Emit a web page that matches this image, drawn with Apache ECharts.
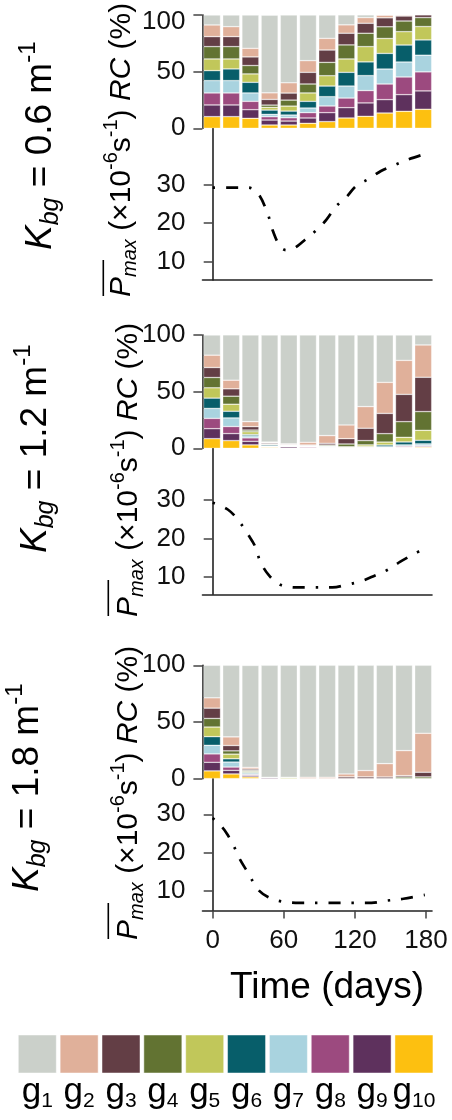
<!DOCTYPE html>
<html>
<head>
<meta charset="utf-8">
<script src="https://cdn.jsdelivr.net/npm/echarts@6/dist/echarts.min.js"></script>
<style>
  html, body { margin: 0; padding: 0; background: #fff; }
  #chart { width: 452px; height: 1120px; }
</style>
</head>
<body>
<div id="chart"></div>
<script>
// ---- data -------------------------------------------------------------
const groupNames = ['1', '2', '3', '4', '5', '6', '7', '8', '9', '10'];
const groupColors = ['#cbd0ca', '#e0b09a', '#633e45', '#627332', '#c1c75a',
                     '#075e6a', '#a9d3df', '#9c4a7f', '#5e315d', '#fdc010'];
const kbgValues = ['0.6', '1.2', '1.8'];

// sampling days of the community composition bars
const barDays = ['0', '16', '32', '48', '64', '80', '97', '113', '129', '145', '162', '178'];

// relative contribution RC (%) of each group, K_bg = 0.6
const k06_g1  = [8.8, 10.3, 29.4, 68.6, 59.8, 40.3, 20.6, 8.8, 2.4, 0.1, 0, 0];
const k06_g2  = [10.3, 8.8, 7.6, 5.8, 9.1, 10.3, 10.3, 7.4, 5.0, 2.4, 0.9, 0];
const k06_g3  = [8.8, 8.8, 7.6, 5.0, 6.2, 10.3, 10.9, 10.3, 8.8, 7.9, 4.4, 2.4];
const k06_g4  = [10.9, 10.9, 7.4, 2.0, 5.3, 7.9, 11.8, 12.4, 11.8, 10.3, 9.4, 7.9];
const k06_g5  = [10.3, 8.8, 7.4, 2.4, 4.4, 7.4, 9.1, 11.8, 13.5, 13.2, 11.8, 11.8];
const k06_g6  = [8.8, 10.3, 9.4, 3.8, 3.5, 5.9, 9.4, 12.1, 12.1, 13.8, 15.0, 13.5];
const k06_g7  = [10.9, 10.9, 7.4, 2.1, 2.4, 4.1, 8.2, 10.6, 13.2, 13.2, 13.2, 14.7];
const k06_g8  = [10.6, 10.6, 7.4, 2.9, 2.9, 4.7, 5.9, 8.5, 10.9, 13.8, 15.6, 16.8];
const k06_g9  = [10.3, 10.3, 7.6, 4.4, 3.5, 4.7, 7.9, 9.1, 11.8, 11.8, 14.7, 16.2];
const k06_g10 = [10.3, 10.3, 8.8, 2.9, 2.9, 4.4, 5.9, 9.1, 10.6, 13.5, 15.0, 16.8];

// K_bg = 1.2
const k12_g1  = [17.8, 40.0, 76.5, 94.5, 96.0, 94.7, 88.8, 79.4, 63.2, 41.8, 22.4, 8.8];
const k12_g2  = [10.9, 7.6, 4.4, 0.6, 0.6, 2.4, 6.8, 12.1, 19.1, 27.4, 30.0, 28.5];
const k12_g3  = [8.8, 6.5, 3.0, 0.9, 0.6, 0.6, 1.5, 4.7, 10.9, 17.9, 24.1, 30.3];
const k12_g4  = [9.1, 7.1, 1.5, 0.6, 0.2, 0.3, 0.9, 2.4, 3.8, 7.4, 13.8, 16.5];
const k12_g5  = [9.1, 6.2, 2.4, 0.3, 0.2, 0.2, 0.3, 0.6, 1.5, 2.6, 4.1, 8.8];
const k12_g6  = [9.1, 5.9, 1.2, 1.0, 0.3, 0.2, 0.6, 0.3, 0.6, 1.5, 2.6, 3.2];
const k12_g7  = [8.8, 7.6, 1.8, 0.3, 0.2, 0.2, 0.6, 0.3, 0.2, 0.6, 1.2, 1.5];
const k12_g8  = [9.1, 6.2, 3.0, 0.5, 0.5, 0.8, 0.2, 0.1, 0.6, 0.3, 0.9, 0.9];
const k12_g9  = [8.8, 6.2, 3.2, 0.5, 1.2, 0.4, 0.2, 0.1, 0.1, 0.5, 0.6, 0.6];
const k12_g10 = [8.5, 6.8, 3.0, 0.8, 0.2, 0.2, 0.1, 0, 0, 0, 0.3, 0.9];

// K_bg = 1.8
const k18_g1  = [28.7, 63.2, 90.0, 98.8, 98.8, 98.8, 98.8, 95.9, 92.9, 86.8, 75.3, 60.0];
const k18_g2  = [9.1, 7.6, 1.5, 0, 0, 1.2, 1.2, 2.6, 5.6, 11.8, 22.1, 34.4];
const k18_g3  = [9.1, 4.7, 1.2, 0, 0, 0, 0, 1.5, 1.5, 1.4, 1.2, 4.1];
const k18_g4  = [7.6, 2.9, 0.9, 0, 0, 0, 0, 0, 0, 0, 1.4, 1.5];
const k18_g5  = [8.5, 4.1, 0.9, 0, 1.2, 0, 0, 0, 0, 0, 0, 0];
const k18_g6  = [7.6, 2.9, 0.9, 0, 0, 0, 0, 0, 0, 0, 0, 0];
const k18_g7  = [7.6, 4.4, 0.9, 0, 0, 0, 0, 0, 0, 0, 0, 0];
const k18_g8  = [7.4, 2.9, 0.9, 0.2, 0, 0, 0, 0, 0, 0, 0, 0];
const k18_g9  = [7.6, 3.2, 1.2, 1.0, 0, 0, 0, 0, 0, 0, 0, 0];
const k18_g10 = [6.8, 4.1, 1.5, 0, 0, 0, 0, 0, 0, 0, 0, 0];

// mean maximum photosynthetic rate (x10^-6 s^-1)
const pmax06Days = [0, 10, 20, 30, 38, 46, 51, 57, 62, 67, 78, 88, 96, 104, 113, 121, 132, 142, 153, 165, 178];
const pmax06     = [29.2, 29.2, 29.2, 29.2, 27.8, 22.8, 17.8, 13.9, 13.0, 13.2, 15.7, 18.3, 20.9, 24.3, 26.8, 29.6, 31.5, 33.5, 35.0, 36.5, 37.8];
const pmax12Days = [0, 13, 22, 30, 36, 40, 47, 57, 71, 86, 101, 113, 126, 137, 148, 158, 169, 179];
const pmax12     = [29.2, 27.4, 24.5, 20.9, 17.8, 14.1, 10.6, 8.0, 7.3, 7.3, 7.3, 8.0, 9.0, 10.4, 11.9, 13.9, 15.8, 17.4];
const pmax18Days = [0, 8, 12, 17, 23, 30, 38, 47, 58, 73, 90, 105, 120, 134, 147, 161, 175, 179];
const pmax18     = [29.0, 26.6, 24.9, 22.2, 18.2, 14.6, 10.4, 8.3, 7.2, 6.8, 6.8, 6.8, 6.8, 6.8, 7.4, 7.9, 8.7, 8.9];

const timeTicks = [0, 60, 120, 180];

// ---- layout -------------------------------------------------------------
const FONT = "'Liberation Sans', Arial, Helvetica, sans-serif";
const AX = '#222';
const plotLeft = 202.5, plotRight = 432;
const barBand = 19.2;                 // width of one bar slot
const barLeft = 202.4;
// pixel positions of day 0 and day 180 on the time axis
const day0Px = 212.7, day180Px = 426;
const pxPerDay = (day180Px - day0Px) / 180;
const xMin = (plotLeft - day0Px) / pxPerDay;
const xMax = (plotRight - day0Px) / pxPerDay;

const panels = [
  { k: kbgValues[0], rc: [k06_g1, k06_g2, k06_g3, k06_g4, k06_g5, k06_g6, k06_g7, k06_g8, k06_g9, k06_g10],
    pd: pmax06Days, pv: pmax06,
    top: 15, zero: 128.3, y30: 184.5, y10: 261.7, bottom: 280,
    titleX: 121.7, titleBottom: 297, barX: 103.3, kX: 41, kBottom: 250, lift100: true },
  { k: kbgValues[1], rc: [k12_g1, k12_g2, k12_g3, k12_g4, k12_g5, k12_g6, k12_g7, k12_g8, k12_g9, k12_g10],
    pd: pmax12Days, pv: pmax12,
    top: 335, zero: 448.3, y30: 499.7, y10: 577, bottom: 594.3,
    titleX: 129, titleBottom: 617, barX: 108.3, kX: 36, kBottom: 553 },
  { k: kbgValues[2], rc: [k18_g1, k18_g2, k18_g3, k18_g4, k18_g5, k18_g6, k18_g7, k18_g8, k18_g9, k18_g10],
    pd: pmax18Days, pv: pmax18,
    top: 665.3, zero: 778.6, y30: 814.3, y10: 890.7, bottom: 910.5,
    titleX: 129, titleBottom: 940, barX: 108.3, kX: 28, kBottom: 892, timeAxis: true }
];

const grid = [], xAxis = [], yAxis = [], series = [], graphic = [];

const tickLabel = { fontFamily: FONT, fontSize: 26, color: '#111' };

panels.forEach((p, pi) => {
  const gBar = grid.length;
  grid.push({ left: barLeft, width: barBand * barDays.length, top: p.top, height: p.zero - p.top });
  const pxPerUnit = (p.y10 - p.y30) / 20;
  const lMax = 30 + (p.y30 - p.zero) / pxPerUnit;
  const lMin = 10 - (p.bottom - p.y10) / pxPerUnit;
  grid.push({ left: plotLeft, width: plotRight - plotLeft, top: p.zero, height: p.bottom - p.zero });

  // composition panel axes
  xAxis.push({ gridIndex: gBar, type: 'category', data: barDays, boundaryGap: true, show: false });
  yAxis.push({
    gridIndex: gBar, type: 'value', min: 0, max: 100,
    axisLine: { show: true, lineStyle: { color: AX, width: 1.6 } },
    axisTick: { show: true, length: 9, customValues: [0, 50, 100], lineStyle: { color: '#444', width: 1.5 } },
    axisLabel: Object.assign({
      margin: 17, customValues: [0, 50, 100],
      formatter: v => (p.lift100 && v === 100) ? '{lo|100}' : String(v),
      rich: { lo: { fontFamily: FONT, fontSize: 26, color: '#111', padding: [13, 0, 0, 0] } }
    }, tickLabel),
    splitLine: { show: false }
  });

  // Pmax panel axes
  xAxis.push({
    gridIndex: gBar + 1, type: 'value', min: xMin, max: xMax,
    axisLine: { show: true, onZero: false, lineStyle: { color: AX, width: 1.6 } },
    axisTick: { show: !!p.timeAxis, length: 8, customValues: timeTicks, lineStyle: { color: '#444', width: 1.5 } },
    axisLabel: Object.assign({ show: !!p.timeAxis, margin: 17, customValues: timeTicks }, tickLabel),
    splitLine: { show: false }
  });
  yAxis.push({
    gridIndex: gBar + 1, type: 'value', min: lMin, max: lMax,
    axisLine: { show: true, lineStyle: { color: AX, width: 1.6 } },
    axisTick: { show: true, length: 9, customValues: [10, 20, 30], lineStyle: { color: '#444', width: 1.5 } },
    axisLabel: Object.assign({ margin: 17, customValues: [10, 20, 30] }, tickLabel),
    splitLine: { show: false }
  });

  // stacked bars: g10 at the bottom, g1 on top
  for (let g = 9; g >= 0; g--) {
    series.push({
      type: 'bar', name: 'g' + groupNames[g], stack: 'rc' + pi,
      xAxisIndex: gBar, yAxisIndex: gBar, barWidth: 17,
      itemStyle: { color: groupColors[g], borderColor: 'rgba(255,255,255,0.55)', borderWidth: 0.6 },
      data: p.rc[g]
    });
  }
  series.push({
    type: 'line', xAxisIndex: gBar + 1, yAxisIndex: gBar + 1,
    smooth: 0.35, showSymbol: false, symbol: 'none',
    lineStyle: { color: '#000', width: 2.7, type: [2.4, 11, 12, 11], cap: 'butt' },
    data: p.pd.map((d, i) => [d, p.pv[i]])
  });

  // rotated panel label K_bg = ...
  graphic.push({
    type: 'text', x: p.kX, y: p.kBottom, rotation: Math.PI / 2,
    style: {
      text: '{i|K}{sub|bg}{n| = ' + p.k + ' m}{sup|-1}',
      align: 'left', verticalAlign: 'middle',
      rich: {
        i:   { fontFamily: FONT, fontSize: 37, fontStyle: 'italic', fill: '#000', lineHeight: 52 },
        n:   { fontFamily: FONT, fontSize: 37, fill: '#000', lineHeight: 52 },
        sub: { fontFamily: FONT, fontSize: 25, fontStyle: 'italic', fill: '#000', lineHeight: 52, padding: [21, 0, 0, 0] },
        sup: { fontFamily: FONT, fontSize: 24, fill: '#000', lineHeight: 52, padding: [0, 0, 25, 0] }
      }
    }
  });

  // rotated axis title shared by both panels
  graphic.push({
    type: 'text', x: p.titleX, y: p.titleBottom, rotation: Math.PI / 2,
    style: {
      text: '{i|P}{sub|max}{n| (×10}{sup|-6}{n|s}{sup|-1}{n|) }{i|RC}{n| (%)}',
      align: 'left', verticalAlign: 'middle',
      rich: {
        i:   { fontFamily: FONT, fontSize: 30, fontStyle: 'italic', fill: '#000', lineHeight: 42 },
        n:   { fontFamily: FONT, fontSize: 30, fill: '#000', lineHeight: 42 },
        sub: { fontFamily: FONT, fontSize: 20, fontStyle: 'italic', fill: '#000', lineHeight: 42, padding: [17, 0, 0, 0] },
        sup: { fontFamily: FONT, fontSize: 20, fill: '#000', lineHeight: 42, padding: [0, 0, 21, 0] }
      }
    }
  });
  // bar over P
  graphic.push({
    type: 'line',
    shape: { x1: p.barX, y1: p.titleBottom - 1, x2: p.barX, y2: p.titleBottom - 37 },
    style: { stroke: '#000', lineWidth: 1.6 }
  });
});

// x axis title
graphic.push({
  type: 'text', x: 327, y: 988,
  style: { text: 'Time (days)', fontFamily: FONT, fontSize: 37, fill: '#000', align: 'center', verticalAlign: 'middle' }
});

// colour key
groupNames.forEach((n, i) => {
  const x = 18.3 + i * 41.85;
  graphic.push({
    type: 'rect', shape: { x: x, y: 1035, width: 38, height: 38 },
    style: { fill: groupColors[i], stroke: 'rgba(255,255,255,0.6)', lineWidth: 0.8 }
  });
  graphic.push({
    type: 'text', x: x + 19, y: 1092,
    style: {
      text: '{g|g}{s|' + n + '}', align: 'center', verticalAlign: 'middle',
      rich: {
        g: { fontFamily: FONT, fontSize: 35, fill: '#000', lineHeight: 46 },
        s: { fontFamily: FONT, fontSize: 21, fill: '#000', lineHeight: 46, padding: [19, 0, 0, 0] }
      }
    }
  });
});

const chart = echarts.init(document.getElementById('chart'), null, { renderer: 'canvas' });
chart.setOption({
  animation: false,
  backgroundColor: '#fff',
  grid, xAxis, yAxis, series, graphic
});
</script>
</body>
</html>
